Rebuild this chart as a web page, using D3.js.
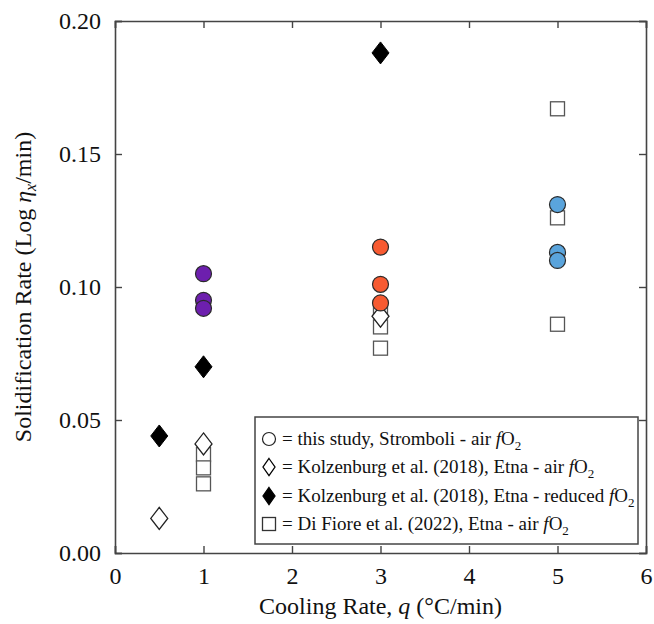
<!DOCTYPE html>
<html>
<head>
<meta charset="utf-8">
<script src="https://cdn.jsdelivr.net/npm/d3@7"></script>
<style>
  html, body { margin: 0; padding: 0; background: #fff; }
  svg text { font-family: "Liberation Serif", "Times New Roman", serif; fill: #111; }
</style>
</head>
<body>
<div id="chart"></div>
<script>
// this study, Stromboli - air fO2 (colour follows cooling rate)
const stromX = [1, 1, 1, 3, 3, 3, 5, 5, 5];
const stromY = [0.105, 0.095, 0.092, 0.115, 0.101, 0.094, 0.131, 0.113, 0.110];
const stromColors = { 1: '#6d1fae', 3: '#f75a31', 5: '#5aa4dc' };

// Kolzenburg et al. (2018), Etna - air fO2
const kolzAirX = [0.5, 1, 3];
const kolzAirY = [0.013, 0.041, 0.089];

// Kolzenburg et al. (2018), Etna - reduced fO2
const kolzRedX = [0.5, 1, 3];
const kolzRedY = [0.044, 0.070, 0.188];

// Di Fiore et al. (2022), Etna - air fO2
const fioreX = [1, 1, 1, 3, 3, 3, 5, 5, 5];
const fioreY = [0.037, 0.032, 0.026, 0.092, 0.085, 0.077, 0.167, 0.126, 0.086];

const xTicks = [0, 1, 2, 3, 4, 5, 6];
const yTicks = [0, 0.05, 0.10, 0.15, 0.20];

const width = 654, height = 624;
const margin = { top: 21, right: 8, bottom: 71, left: 115 };
const iw = width - margin.left - margin.right;
const ih = height - margin.top - margin.bottom;

const svg = d3.select('#chart').append('svg')
  .attr('width', width)
  .attr('height', height);

const g = svg.append('g').attr('transform', `translate(${margin.left},${margin.top})`);

const x = d3.scaleLinear().domain([0, 6]).range([0, iw]);
const y = d3.scaleLinear().domain([0, 0.2]).range([ih, 0]);

const frameColor = '#444';

// axes: ticks point inward on every side
const tickLen = 7;
g.append('g').attr('transform', `translate(0,${ih})`)
  .call(d3.axisBottom(x).tickValues(xTicks).tickSize(-tickLen).tickPadding(14).tickFormat(d3.format('d')));
g.append('g')
  .call(d3.axisTop(x).tickValues(xTicks).tickSize(-tickLen).tickFormat(''));
g.append('g')
  .call(d3.axisLeft(y).tickValues(yTicks).tickSize(-tickLen).tickPadding(14).tickFormat(d3.format('.2f')));
g.append('g').attr('transform', `translate(${iw},0)`)
  .call(d3.axisRight(y).tickValues(yTicks).tickSize(-tickLen).tickFormat(''));

g.selectAll('.domain').attr('stroke', frameColor).attr('stroke-width', 1.6);
g.selectAll('.tick line').attr('stroke', frameColor).attr('stroke-width', 1.4);
g.selectAll('.tick text')
  .style('font-family', '"Liberation Serif", "Times New Roman", serif')
  .style('font-size', '24px')
  .attr('fill', '#111');

// symbols
const diamondPath = (w, h) => `M0,${-h / 2}L${w / 2},0L0,${h / 2}L${-w / 2},0Z`;

const fioreData = fioreX.map((d, i) => ({ x: d, y: fioreY[i] }));
g.append('g').selectAll('rect').data(fioreData).enter().append('rect')
  .attr('x', d => x(d.x) - 7)
  .attr('y', d => y(d.y) - 7)
  .attr('width', 14)
  .attr('height', 14)
  .attr('fill', '#fff')
  .attr('stroke', '#555')
  .attr('stroke-width', 1.3);

const kolzAirData = kolzAirX.map((d, i) => ({ x: d, y: kolzAirY[i] }));
g.append('g').selectAll('path').data(kolzAirData).enter().append('path')
  .attr('d', diamondPath(17, 22))
  .attr('transform', d => `translate(${x(d.x)},${y(d.y)})`)
  .attr('fill', '#fff')
  .attr('stroke', '#222')
  .attr('stroke-width', 1.3);

const kolzRedData = kolzRedX.map((d, i) => ({ x: d, y: kolzRedY[i] }));
g.append('g').selectAll('path').data(kolzRedData).enter().append('path')
  .attr('d', diamondPath(17, 22))
  .attr('transform', d => `translate(${x(d.x)},${y(d.y)})`)
  .attr('fill', '#000')
  .attr('stroke', '#000')
  .attr('stroke-width', 1);

const stromData = stromX.map((d, i) => ({ x: d, y: stromY[i] }));
g.append('g').selectAll('circle').data(stromData).enter().append('circle')
  .attr('cx', d => x(d.x))
  .attr('cy', d => y(d.y))
  .attr('r', 8)
  .attr('fill', d => stromColors[d.x])
  .attr('stroke', '#2a2a2a')
  .attr('stroke-width', 1.2);

// axis titles
const xTitle = svg.append('text')
  .attr('x', margin.left + iw / 2)
  .attr('y', 614)
  .attr('text-anchor', 'middle')
  .style('font-size', '24px');
xTitle.append('tspan').text('Cooling Rate, ');
xTitle.append('tspan').style('font-style', 'italic').text('q');
xTitle.append('tspan').text(' (°C/min)');

const yTitle = svg.append('text')
  .attr('transform', `translate(31,${margin.top + ih / 2}) rotate(-90)`)
  .attr('text-anchor', 'middle')
  .style('font-size', '24px');
yTitle.append('tspan').text('Solidification Rate (Log ');
yTitle.append('tspan').style('font-style', 'italic').text('η');
yTitle.append('tspan').style('font-style', 'italic').style('font-size', '16px').attr('dy', 5).text('x');
yTitle.append('tspan').attr('dy', -5).text('/min)');

// legend
const legend = svg.append('g');
legend.append('rect')
  .attr('x', 255).attr('y', 417)
  .attr('width', 383).attr('height', 127)
  .attr('fill', '#fff')
  .attr('stroke', frameColor)
  .attr('stroke-width', 1.5);

const legendItems = [
  { sym: 'circle', pre: '= this study, Stromboli - air ' },
  { sym: 'openDiamond', pre: '= Kolzenburg et al. (2018), Etna - air ' },
  { sym: 'fullDiamond', pre: '= Kolzenburg et al. (2018), Etna - reduced ' },
  { sym: 'square', pre: '= Di Fiore et al. (2022), Etna - air ' }
];
const rowY = [439, 467, 496, 524];

legendItems.forEach((item, i) => {
  const cy = rowY[i];
  const sx = 269;
  if (item.sym === 'circle') {
    legend.append('circle').attr('cx', sx).attr('cy', cy).attr('r', 6.5)
      .attr('fill', '#fff').attr('stroke', '#222').attr('stroke-width', 1.2);
  } else if (item.sym === 'square') {
    legend.append('rect').attr('x', sx - 6.5).attr('y', cy - 6.5).attr('width', 13).attr('height', 13)
      .attr('fill', '#fff').attr('stroke', '#333').attr('stroke-width', 1.3);
  } else {
    legend.append('path').attr('d', diamondPath(12, 17))
      .attr('transform', `translate(${sx},${cy})`)
      .attr('fill', item.sym === 'fullDiamond' ? '#000' : '#fff')
      .attr('stroke', '#000').attr('stroke-width', 1.3);
  }
  const t = legend.append('text')
    .attr('x', 282).attr('y', cy + 6)
    .style('font-size', '19px');
  t.append('tspan').text(item.pre);
  t.append('tspan').style('font-style', 'italic').text('f');
  t.append('tspan').text('O');
  t.append('tspan').attr('dy', 5).style('font-size', '13px').text('2');
});
</script>
</body>
</html>
